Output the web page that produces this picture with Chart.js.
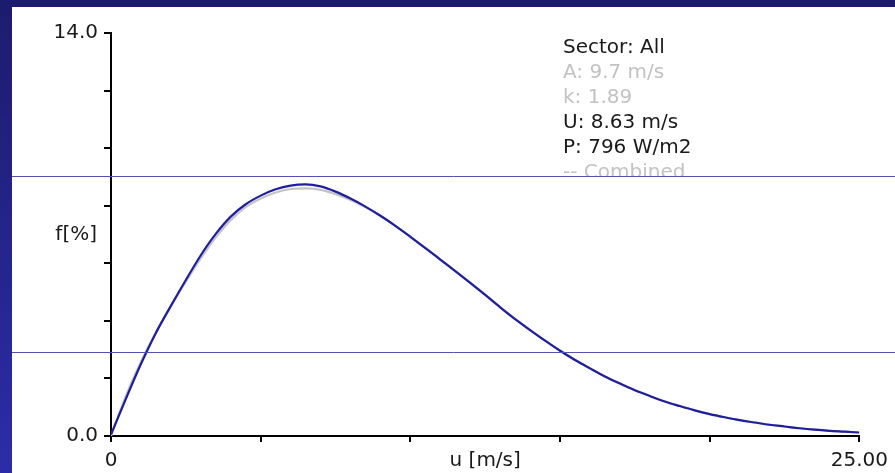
<!DOCTYPE html>
<html>
<head>
<meta charset="utf-8">
<script src="https://cdn.jsdelivr.net/npm/chart.js@4.4.0/dist/chart.umd.min.js"></script>
<style>
  html, body { margin: 0; padding: 0; background: #1e1e78; overflow: hidden; }
  #wrap { position: relative; width: 895px; height: 473px; }
</style>
</head>
<body>
<div id="wrap"><canvas id="chart" width="895" height="473"></canvas></div>
<script>
// Wind speed bins (m/s)
const speeds = [0, 0.5, 1, 1.5, 2, 2.5, 3, 3.5, 4, 4.5, 5, 5.5, 6, 6.5, 7, 7.5, 8, 8.5, 9, 9.5,
  10, 10.5, 11, 11.5, 12, 12.5, 13, 13.5, 14, 14.5, 15, 15.5, 16, 16.5, 17, 17.5, 18, 18.5, 19, 19.5,
  20, 20.5, 21, 21.5, 22, 22.5, 23, 23.5, 24, 24.5, 25];

// Measured frequency (%) - dark blue
const measured = [0.05, 1.3, 2.5, 3.58, 4.52, 5.42, 6.28, 7.02, 7.62, 8.05, 8.35, 8.57, 8.7, 8.74, 8.67, 8.49,
  8.25, 7.97, 7.65, 7.3, 6.92, 6.53, 6.13, 5.73, 5.32, 4.9, 4.47, 4.06, 3.68, 3.31, 2.96, 2.64, 2.35, 2.07,
  1.82, 1.59, 1.39, 1.2, 1.04, 0.89, 0.76, 0.65, 0.55, 0.47, 0.39, 0.33, 0.27, 0.22, 0.18, 0.15, 0.12];

// Weibull fit "Combined" (%) - light grey
const combined = [0, 1.4, 2.58, 3.6, 4.5, 5.36, 6.17, 6.9, 7.5, 7.95, 8.25, 8.46, 8.58, 8.6, 8.55, 8.4,
  8.2, 7.95, 7.65, 7.3, 6.93, 6.54, 6.14, 5.74, 5.33, 4.91, 4.48, 4.07, 3.69, 3.32, 2.97, 2.65, 2.35, 2.07,
  1.82, 1.59, 1.39, 1.2, 1.04, 0.89, 0.76, 0.65, 0.55, 0.47, 0.39, 0.33, 0.27, 0.22, 0.18, 0.15, 0.12];

const infoLines = [
  { text: 'Sector: All', color: '#1a1a1a' },
  { text: 'A: 9.7 m/s', color: '#c2c2c2' },
  { text: 'k: 1.89', color: '#c2c2c2' },
  { text: 'U: 8.63 m/s', color: '#1a1a1a' },
  { text: 'P: 796 W/m2', color: '#1a1a1a' },
  { text: '-- Combined', color: '#c2c2c2' }
];

const FONT = '20px "DejaVu Sans"';

function toPoints(ys) {
  return speeds.map((x, i) => ({ x: x, y: ys[i] }));
}

// slide background, labels, info block and the two template lines
const decor = {
  id: 'decor',
  beforeDraw(chart) {
    const ctx = chart.ctx;
    const g = ctx.createLinearGradient(0, 0, 0, chart.height);
    g.addColorStop(0, '#1c1c6e');
    g.addColorStop(1, '#2c2ca8');
    ctx.save();
    ctx.fillStyle = g;
    ctx.fillRect(0, 0, chart.width, chart.height);
    ctx.fillStyle = '#ffffff';
    ctx.fillRect(12, 7, chart.width - 12, chart.height - 7);
    ctx.restore();
  },
  afterDraw(chart) {
    const ctx = chart.ctx;
    const area = chart.chartArea;
    ctx.save();
    ctx.font = FONT;
    ctx.fillStyle = '#1a1a1a';
    ctx.textBaseline = 'middle';
    // axis names sit in the tick label rows
    ctx.textAlign = 'right';
    ctx.fillText('f[%]', area.left - 14, chart.scales.y.getPixelForValue(7));
    ctx.textAlign = 'center';
    ctx.fillText('u [m/s]', (area.left + area.right) / 2, area.bottom + 25);

    // info block, cut off by the upper template line
    ctx.beginPath();
    ctx.rect(0, 0, chart.width, 176);
    ctx.clip();
    ctx.textAlign = 'left';
    ctx.textBaseline = 'alphabetic';
    infoLines.forEach((l, i) => {
      ctx.fillStyle = l.color;
      ctx.fillText(l.text, 563, 53 + i * 25);
    });
    ctx.restore();

    ctx.save();
    ctx.strokeStyle = '#5252b2';
    ctx.lineWidth = 1;
    [176.5, 352.5].forEach(y => {
      ctx.beginPath();
      ctx.moveTo(12, y);
      ctx.lineTo(chart.width, y);
      ctx.stroke();
    });
    ctx.restore();
  }
};

new Chart(document.getElementById('chart').getContext('2d'), {
  type: 'line',
  data: {
    datasets: [
      {
        label: 'Measured',
        data: toPoints(measured),
        borderColor: '#1f1f9e',
        borderWidth: 2.2,
        pointRadius: 0,
        cubicInterpolationMode: 'monotone',
        fill: false,
        order: 0
      },
      {
        label: 'Combined',
        data: toPoints(combined),
        borderColor: '#c4c4c4',
        borderWidth: 2.2,
        pointRadius: 0,
        cubicInterpolationMode: 'monotone',
        fill: false,
        order: 1
      }
    ]
  },
  options: {
    responsive: false,
    animation: false,
    devicePixelRatio: 1,
    layout: { padding: { left: 12, top: 33, right: 29, bottom: 0 } },
    plugins: {
      legend: { display: false },
      tooltip: { enabled: false }
    },
    scales: {
      x: {
        type: 'linear',
        min: 0,
        max: 25,
        afterFit(scale) { scale.height = 37; },
        border: { display: true, color: '#000', width: 2 },
        grid: { drawOnChartArea: false, drawTicks: true, tickLength: 6, tickColor: '#000', lineWidth: 2 },
        ticks: {
          stepSize: 5,
          padding: 7,
          maxRotation: 0,
          autoSkip: false,
          color: '#1a1a1a',
          font: { family: 'DejaVu Sans', size: 20 },
          callback: (v) => v === 0 ? '0' : (v === 25 ? '25.00' : '')
        }
      },
      y: {
        min: 0,
        max: 14,
        afterFit(scale) { scale.width = 99; },
        border: { display: true, color: '#000', width: 2 },
        grid: { drawOnChartArea: false, drawTicks: true, tickLength: 7, tickColor: '#000', lineWidth: 2 },
        ticks: {
          stepSize: 2,
          padding: 6,
          autoSkip: false,
          color: '#1a1a1a',
          font: { family: 'DejaVu Sans', size: 20 },
          callback: (v) => (v === 0 || v === 14) ? v.toFixed(1) : ''
        }
      }
    }
  },
  plugins: [decor]
});
</script>
</body>
</html>
